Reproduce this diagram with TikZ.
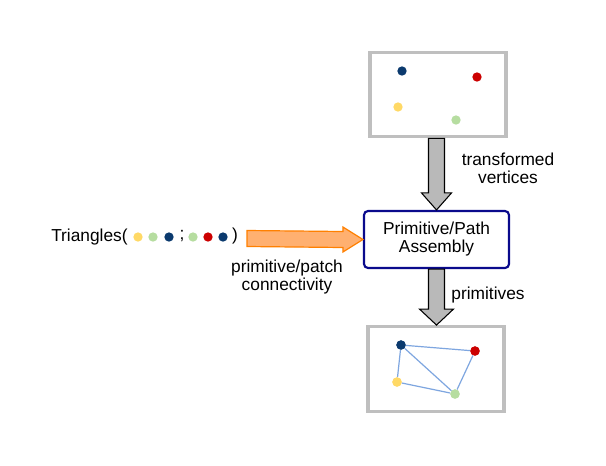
\documentclass[tikz,border=0pt]{standalone}
\usepackage{fontspec}
\setmainfont{Liberation Sans}
\usetikzlibrary{calc}
\definecolor{panelgray}{HTML}{BFBFBF}
\definecolor{asmblue}{HTML}{0A0A8C}
\definecolor{dotnavy}{HTML}{0B3A6E}
\definecolor{dotred}{HTML}{CC0000}
\definecolor{dotyellow}{HTML}{FFD966}
\definecolor{dotgreen}{HTML}{B6DDA0}
\definecolor{edgeblue}{HTML}{7EA6E0}
\definecolor{connorange}{HTML}{FF8000}
\definecolor{connfill}{HTML}{FFB070}

\begin{document}
\begin{tikzpicture}[
    x=0.75pt, y=-0.75pt,
    every node/.style={font=\fontsize{13pt}{13.5pt}\selectfont},
    panel/.style={draw=panelgray, line width=2.4pt, fill=white, minimum width=102pt, minimum height=63.5pt, inner sep=0pt},
    asmbox/.style={rounded corners=3pt, draw=asmblue, line width=1.6pt, fill=white, align=center, minimum width=108.75pt, minimum height=42.75pt, inner sep=0pt},
    dot/.style={circle, fill=#1, minimum size=7pt, inner sep=0pt},
    label/.style={align=center, inner sep=0pt},
    edge/.style={draw=edgeblue, line width=0.9pt},
    grayarrow/.style={draw=black, line width=0.8pt, fill=gray!55, line join=miter},
    orangearrow/.style={draw=connorange, line width=0.9pt, fill=connfill, line join=miter}
  ]
    \useasboundingbox (0,0) rectangle (606,465);

    % boxes
    \node[panel] (vtx) at (438,94.5) {};
    \node[asmbox] (asm) at (436.5,239.5) {Primitive/Path\\Assembly};
    \node[panel] (prim) at (436,369) {};

    % transformed vertices
    \node[dot=dotnavy] (v1) at (402,71) {};
    \node[dot=dotred] (v2) at (477,77) {};
    \node[dot=dotyellow] (v3) at (398,107) {};
    \node[dot=dotgreen] (v4) at (456,120) {};

    % assembled primitives
    \node[dot=dotnavy] (p1) at (401,345) {};
    \node[dot=dotred] (p2) at (475,351) {};
    \node[dot=dotyellow] (p3) at (397,382) {};
    \node[dot=dotgreen] (p4) at (455,394) {};
    \draw[edge] (p1) -- (p2);
    \draw[edge] (p1) -- (p3);
    \draw[edge] (p1) -- (p4);
    \draw[edge] (p3) -- (p4);
    \draw[edge] (p2) -- (p4);
    \foreach \p/\c in {p1/dotnavy,p2/dotred,p3/dotyellow,p4/dotgreen}
      \node[dot=\c] at (\p) {};

    % connectivity list
    \node[label, anchor=west] (tri) at (51,237) {Triangles(};
    \node[dot=dotyellow] (t1) at (138,237) {};
    \node[dot=dotgreen] (t2) at (153,237) {};
    \node[dot=dotnavy] (t3) at (169,237) {};
    \node[label] (semi) at (182,236) {;};
    \node[dot=dotgreen] (t4) at (193,237) {};
    \node[dot=dotred] (t5) at (208,237) {};
    \node[dot=dotnavy] (t6) at (223,237) {};
    \node[label] (close) at (235,236) {)};

    % block arrows
    \coordinate (conn) at (247,238.5);
    \draw[orangearrow] ($(conn)+(0,-8)$) -- ($(asm.west)+(-20,-8)$) -- ($(asm.west)+(-20,-12.5)$)
      -- (asm.west) -- ($(asm.west)+(-20,12.5)$) -- ($(asm.west)+(-20,8)$) -- ($(conn)+(0,8)$) -- cycle;
    \draw[grayarrow] ($(vtx.south -| asm.north)+(-8,0)$) -- ($(asm.north)+(-8,-17)$) -- ($(asm.north)+(-15,-17)$)
      -- (asm.north) -- ($(asm.north)+(15,-17)$) -- ($(asm.north)+(8,-17)$) -- ($(vtx.south -| asm.north)+(8,0)$) -- cycle;
    \draw[grayarrow] ($(asm.south)+(-8,0)$) -- ($(prim.north -| asm.south)+(-8,-16)$) -- ($(prim.north -| asm.south)+(-17,-16)$)
      -- (prim.north -| asm.south) -- ($(prim.north -| asm.south)+(17,-16)$) -- ($(prim.north -| asm.south)+(8,-16)$) -- ($(asm.south)+(8,0)$) -- cycle;

    % labels
    \node[label] (lbltr) at (508,168) {transformed\\vertices};
    \node[label] (lblpr) at (488,295) {primitives};
    \node[label] (lblcn) at (287,277) {primitive/patch\\connectivity};
  \end{tikzpicture}
\end{document}
